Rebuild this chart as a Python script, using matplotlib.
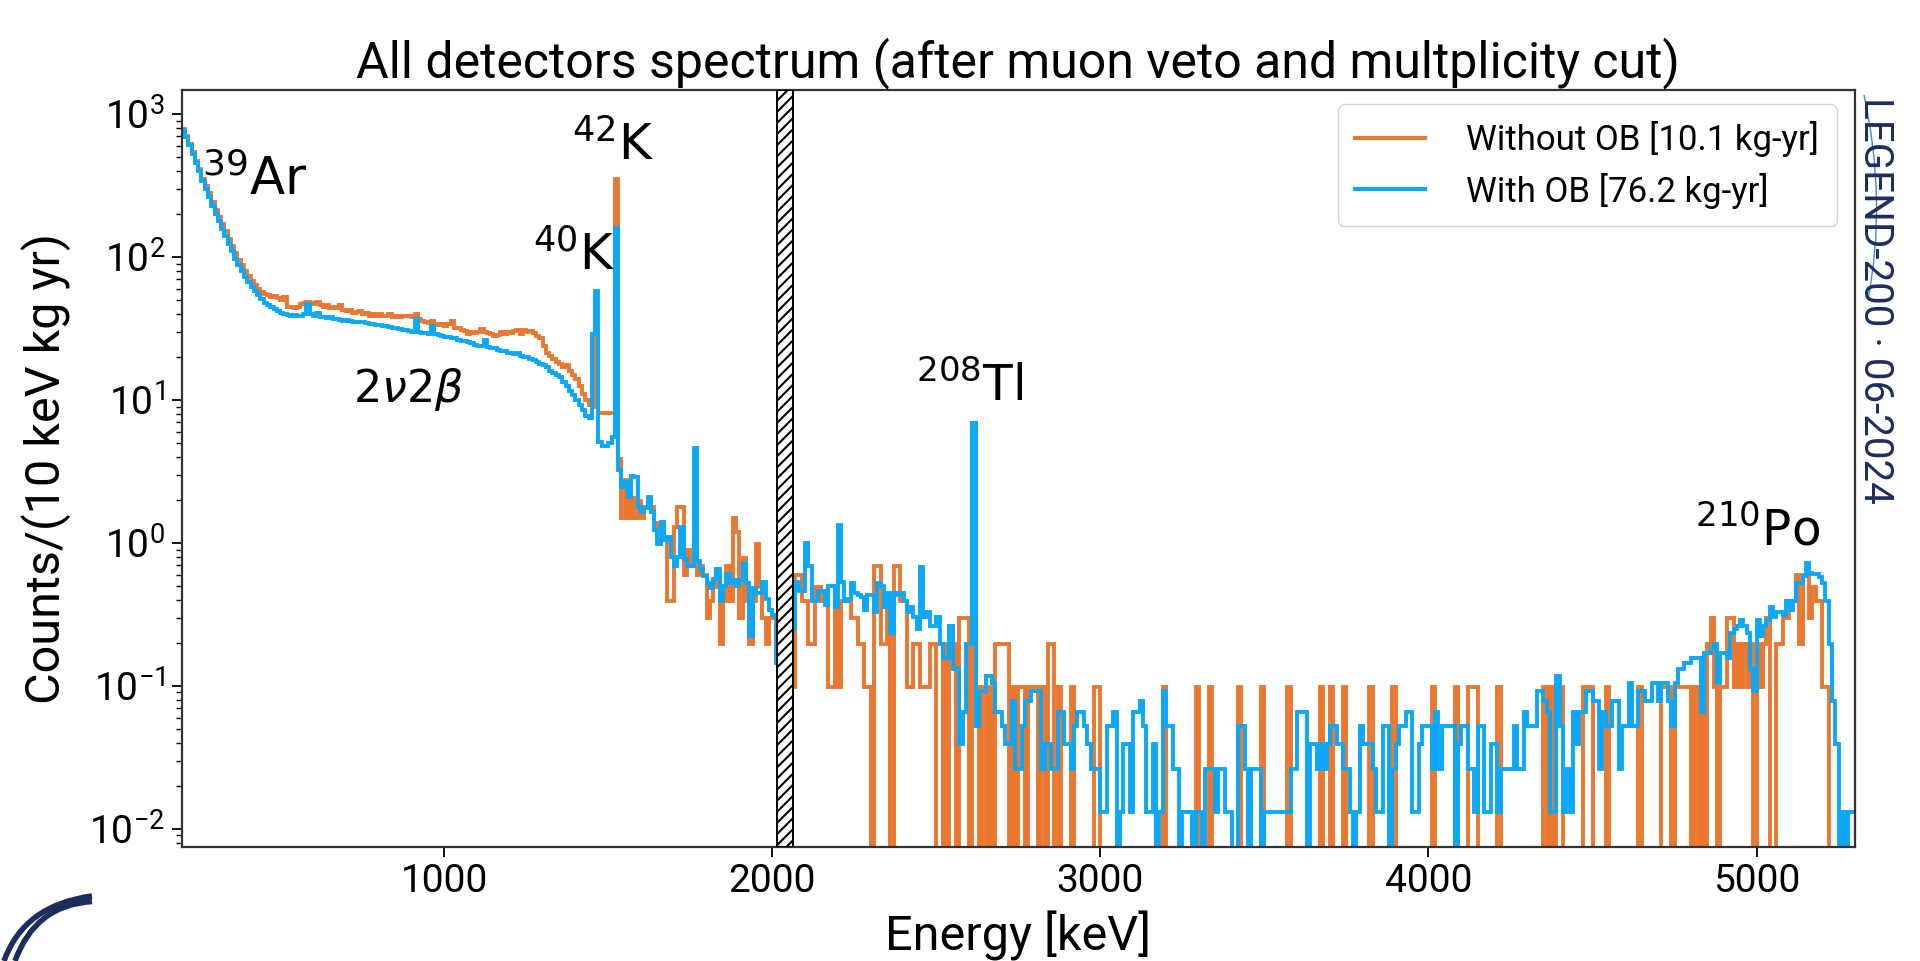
import numpy as np
import matplotlib
matplotlib.use("Agg")
import matplotlib.pyplot as plt
from matplotlib.path import Path
from matplotlib.patches import PathPatch

# ---------------- data (10 keV bins) ----------------
bin_width_keV = 10
e_start_keV = 200
e_stop_keV = 5300
exposure_no_ob = 10.1   # kg yr
exposure_ob = 76.2      # kg yr

# Rates (counts / (10 keV kg yr)) for bins starting at 200 ... 1520 keV
rate_no_ob_low = [
    790, 700, 620, 545, 475, 415, 355, 315, 280, 245,
    215, 192, 172, 152, 135, 120, 107, 96, 88, 80,
    74, 68, 64, 60, 57, 55, 54, 53, 53.5, 52,
    50, 53, 45, 45, 44, 45, 47, 48, 49, 48,
    47, 49, 46, 45, 46, 44, 45, 44, 46, 43,
    42, 43, 41, 41.5, 42, 40, 41, 39, 40, 39,
    40, 38.5, 39, 40, 38, 39, 38, 39, 38.5, 39,
    38, 40, 37, 36, 35, 34.5, 36, 34, 33.5, 34,
    33, 34, 36, 32, 32, 31, 30.5, 29, 30, 29.5,
    30, 31.5, 30, 29.5, 29, 28, 28.5, 30, 29, 30,
    29.5, 30.5, 31, 29, 31, 30, 30.5, 29.5, 28, 27,
    24, 21.5, 20.5, 19.5, 18.5, 18, 17, 17.5, 16, 15,
    14, 12.5, 11, 10, 9.2, 9.0, 27, 8.1, 8.1, 8.1,
    8.1, 8.1, 355,
]
rate_ob_low = [
    780, 690, 610, 530, 460, 400, 340, 300, 262, 228,
    200, 178, 158, 140, 124, 110, 97, 88, 80, 73,
    67, 62, 58, 54, 51, 48, 46, 45, 43.5, 42,
    41, 40, 39.5, 39, 39.5, 38.5, 39, 40, 47, 40,
    39, 41, 38, 38, 37.5, 38, 37, 37, 36.5, 36,
    36.5, 36, 35.5, 35, 35.5, 35, 34.5, 34, 34, 33.5,
    33.5, 33, 33, 32.5, 32, 32, 31.5, 31, 31, 30.5,
    30, 37, 30, 29.5, 29.5, 29, 33, 29, 28.5, 28,
    27.5, 27.5, 27, 27, 26.5, 26, 26, 25.5, 25, 24.5,
    24, 24, 26.5, 23.5, 23, 23, 22.5, 22, 22, 21.5,
    21.5, 21, 21.5, 20.5, 20, 20, 19.5, 19, 18.5, 18,
    17.5, 17, 16, 15.5, 15, 14.5, 13.5, 12.5, 11.5, 10.8,
    10, 9.3, 8.5, 7.8, 7.5, 29, 58, 5.1, 4.8, 4.8,
    5.0, 5.5, 160,
]

# Raw counts for bins starting at 1530 ... 5290 keV
counts_no_ob_high = [
    39, 15, 28, 15, 21, 15, 20, 15, 18, 19,
    18, 14, 13, 14, 11, 4, 4, 13, 18, 18,
    6, 9, 7, 8, 6, 7, 6, 3, 4, 5,
    6, 2, 4, 7, 4, 15, 12, 3, 8, 4,
    2, 4, 10, 5, 3, 2, 3, 3, 3, 2,
    3, 2, 3, 1, 6, 6, 4, 4, 2, 2,
    5, 5, 4, 4, 1, 1, 4, 1, 4, 4,
    4, 3, 3, 2, 2, 1, 1, 0, 7, 7,
    2, 2, 4, 0, 7, 7, 4, 4, 1, 1,
    2, 2, 1, 1, 1, 2, 2, 0, 0, 2,
    0, 2, 2, 0, 3, 3, 3, 0, 3, 1,
    0, 1, 0, 1, 0, 2, 2, 2, 2, 0,
    1, 0, 1, 1, 0, 1, 1, 1, 0, 1,
    0, 2, 2, 0, 1, 0, 0, 0, 1, 0,
    0, 0, 0, 0, 0, 1, 1, 0, 0, 0,
    0, 0, 0, 0, 0, 0, 0, 0, 0, 0,
    0, 0, 0, 0, 0, 0, 1, 0, 0, 0,
    0, 0, 0, 0, 0, 0, 1, 0, 0, 0,
    1, 0, 0, 0, 0, 0, 0, 0, 0, 1,
    0, 0, 0, 0, 0, 0, 1, 0, 0, 0,
    0, 0, 0, 0, 1, 0, 0, 0, 0, 0,
    0, 0, 0, 0, 1, 0, 0, 1, 0, 0,
    0, 1, 0, 0, 0, 0, 0, 0, 0, 1,
    0, 0, 0, 0, 0, 0, 1, 0, 0, 0,
    0, 0, 0, 0, 0, 0, 0, 0, 1, 0,
    0, 0, 0, 0, 0, 1, 0, 0, 0, 1,
    1, 1, 0, 0, 0, 0, 0, 0, 1, 0,
    0, 0, 0, 0, 0, 0, 0, 0, 0, 0,
    0, 0, 1, 0, 1, 0, 1, 1, 0, 0,
    0, 0, 0, 0, 1, 1, 1, 0, 0, 0,
    0, 1, 0, 0, 0, 0, 0, 0, 0, 0,
    0, 1, 0, 0, 0, 0, 0, 0, 1, 1,
    1, 0, 1, 1, 1, 1, 1, 0, 1, 0,
    1, 0, 2, 3, 1, 0, 1, 1, 3, 3,
    1, 2, 1, 2, 1, 2, 0, 2, 1, 2,
    3, 0, 0, 2, 2, 3, 3, 4, 4, 6,
    2, 6, 6, 3, 5, 4, 4, 1, 1, 0,
    0, 0, 0, 0, 0, 0, 0,
]
counts_ob_high = [
    247, 189, 204, 161, 223, 221, 137, 126, 133, 160,
    126, 94, 75, 107, 80, 84, 61, 53, 61, 99,
    59, 53, 53, 350, 57, 50, 45, 40, 37, 43,
    50, 30, 38, 46, 40, 42, 38, 42, 55, 40,
    17, 37, 34, 34, 41, 31, 26, 24, 11, 25,
    30, 28, 27, 19, 41, 35, 35, 76, 53, 30,
    30, 35, 35, 28, 38, 38, 27, 102, 41, 30,
    31, 40, 34, 33, 32, 26, 33, 33, 25, 40,
    38, 27, 34, 18, 34, 33, 34, 30, 25, 27,
    23, 19, 52, 23, 25, 20, 20, 23, 15, 12,
    12, 20, 10, 10, 3, 5, 15, 15, 526, 4,
    7, 7, 9, 9, 8, 5, 5, 4, 3, 3,
    6, 2, 2, 4, 6, 6, 7, 7, 7, 2,
    3, 3, 2, 2, 5, 5, 3, 3, 2, 4,
    5, 5, 4, 3, 2, 2, 2, 1, 1, 4,
    4, 5, 0, 1, 3, 3, 1, 5, 5, 6,
    4, 1, 1, 3, 0, 1, 7, 4, 4, 2,
    2, 0, 1, 1, 1, 0, 1, 1, 0, 2,
    2, 2, 1, 2, 2, 1, 1, 0, 0, 4,
    4, 2, 0, 2, 2, 2, 0, 1, 1, 1,
    1, 1, 1, 1, 1, 2, 2, 5, 5, 5,
    0, 3, 3, 2, 3, 2, 3, 4, 4, 3,
    3, 2, 2, 1, 0, 1, 4, 3, 3, 3,
    2, 1, 1, 4, 4, 0, 2, 3, 4, 4,
    5, 5, 1, 1, 3, 4, 4, 4, 2, 5,
    2, 4, 4, 4, 4, 0, 3, 4, 4, 2,
    2, 1, 4, 4, 1, 1, 3, 3, 1, 2,
    2, 2, 2, 4, 2, 2, 5, 4, 4, 4,
    7, 7, 6, 5, 1, 1, 9, 4, 1, 2,
    1, 5, 3, 5, 5, 7, 7, 6, 6, 2,
    5, 4, 4, 6, 6, 2, 4, 4, 8, 4,
    4, 7, 7, 6, 6, 8, 8, 6, 8, 8,
    6, 4, 8, 10, 10, 11, 11, 12, 12, 12,
    5, 13, 13, 14, 15, 8, 13, 13, 12, 18,
    19, 20, 22, 20, 18, 10, 7, 22, 17, 20,
    22, 27, 23, 25, 25, 24, 30, 26, 30, 40,
    40, 45, 55, 47, 46, 46, 44, 40, 30, 15,
    6, 3, 0, 1, 0, 1, 1,
]

blind_window_keV = (2014, 2064)

labels = ["Without OB [10.1 kg-yr]", "With OB [76.2 kg-yr]"]
peak_labels = [
    (r"$^{39}$Ar", 262, 271, 37),
    (r"$^{42}$K", 1390, 477, 36),
    (r"$^{40}$K", 1272, 81, 36),
    (r"$2\nu2\beta$", 723, 9.7, 32),
    (r"$^{208}$Tl", 2438, 9.86, 35),
    (r"$^{210}$Po", 4812, 0.968, 35),
]

# ---------------- build series ----------------
rate_no_ob = np.concatenate([np.asarray(rate_no_ob_low, float),
                             np.asarray(counts_no_ob_high, float) / exposure_no_ob])
rate_ob = np.concatenate([np.asarray(rate_ob_low, float),
                          np.asarray(counts_ob_high, float) / exposure_ob])
edges = np.arange(e_start_keV, e_stop_keV + bin_width_keV, bin_width_keV)
assert len(rate_no_ob) == len(edges) - 1, (len(rate_no_ob), len(edges))
assert len(rate_ob) == len(edges) - 1, (len(rate_ob), len(edges))

ORANGE = "#EA7730"
BLUE = "#0AA8F7"
NAVY = "#1c2d5e"

plt.rcParams["font.family"] = ["Roboto", "DejaVu Sans"]
plt.rcParams["hatch.linewidth"] = 1.5
plt.rcParams["mathtext.fontset"] = "dejavusans"

W, H = 1920, 961
fig = plt.figure(figsize=(W / 100, H / 100), dpi=100)
ax_l, ax_r, ax_t, ax_b = 181.7, 1855, 90, 846.7
ax = fig.add_axes([ax_l / W, 1 - ax_b / H, (ax_r - ax_l) / W, (ax_b - ax_t) / H])

ax.set_yscale("log")
ax.stairs(rate_no_ob, edges, color=ORANGE, lw=2.8, baseline=None, label=labels[0], zorder=2)
ax.stairs(rate_ob, edges, color=BLUE, lw=2.8, baseline=None, label=labels[1], zorder=2.1)

ax.axvspan(*blind_window_keV, facecolor="white", edgecolor="black", hatch="///",
           lw=1.4, zorder=3)

ax.set_xlim(e_start_keV, e_stop_keV)
ax.set_ylim(0.0075, 1480)

ax.set_xticks([1000, 2000, 3000, 4000, 5000])
ax.tick_params(axis="both", which="major", labelsize=28, length=7, width=1.3, pad=5)
ax.tick_params(axis="y", which="minor", length=4, width=1.0)
for s in ax.spines.values():
    s.set_linewidth(1.6)
    s.set_color("#333333")

ax.set_title("All detectors spectrum (after muon veto and multplicity cut)",
             fontsize=36, pad=9)
ax.set_xlabel("Energy [keV]", fontsize=35)
ax.set_ylabel("Counts/(10 keV kg yr)", fontsize=35)
ax.xaxis.set_label_coords(0.5, -0.085)
ax.yaxis.set_label_coords(-0.066, 0.5)

for txt, ex, ey, fs in peak_labels:
    ax.text(ex, ey, txt, fontsize=fs, family="DejaVu Sans", va="baseline", ha="left",
            zorder=5)

leg = ax.legend(loc="upper right", bbox_to_anchor=(0.989, 0.982), borderaxespad=0,
                fontsize=25, handlelength=2.0, handletextpad=1.2, frameon=True,
                fancybox=True, framealpha=0.85, edgecolor="#cccccc",
                borderpad=0.5, labelspacing=0.45)
for h in leg.legend_handles:
    h.set_linewidth(3)

# watermark
fig.text(1876 / W, 1 - 300 / H, "LEGEND-200 · 06-2024", rotation=-90, color=NAVY,
         fontsize=29, ha="center", va="center")
sw = [(1864, 95), (1887, 200), (1868, 300)]
sw = [(x / W, 1 - y / H) for x, y in sw]
fig.add_artist(PathPatch(Path(sw, [Path.MOVETO, Path.CURVE3, Path.CURVE3]),
                         transform=fig.transFigure, fill=False,
                         edgecolor="#3b8fd0", lw=1.0))

# logo swoosh (decorative)
for off in (0, 11):
    verts = [(4 + off, 961), (24 + off, 905), (92, 896 + off * 0.5)]
    verts = [(x / W, 1 - y / H) for x, y in verts]
    p = Path(verts, [Path.MOVETO, Path.CURVE3, Path.CURVE3])
    fig.add_artist(PathPatch(p, transform=fig.transFigure, fill=False,
                             edgecolor=NAVY, lw=4))

fig.savefig("out.png", dpi=100)
